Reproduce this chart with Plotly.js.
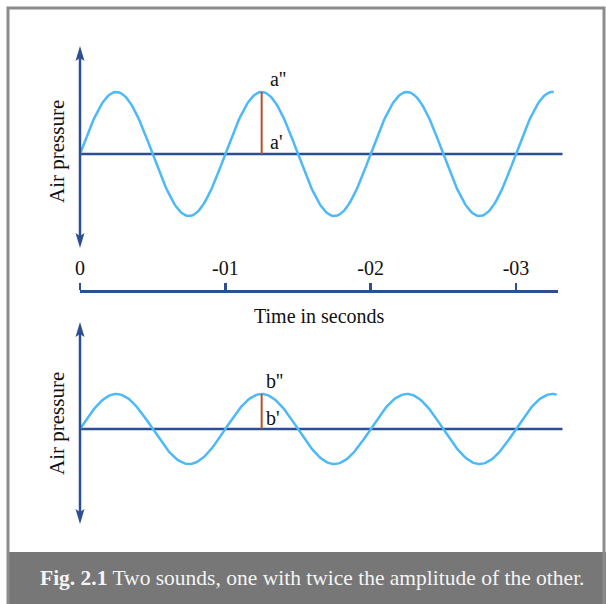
<!DOCTYPE html>
<html>
<head>
<meta charset="utf-8">
<script src="https://cdn.plot.ly/plotly-3.0.1.min.js"></script>
<style>
  body { margin: 0; background: #fff; }
  #fig { width: 606px; height: 604px; }
</style>
</head>
<body>
<div id="fig"></div>
<script>
// values
const amplitudes = [2, 1]; // top sound has twice the amplitude
const frequencyHz = 100; // one full cycle per 0.01 s tick
const waveEnds = [0.0326, 0.0328];
const zeroLineEnd = 0.0332;
const markTimes = [0.0125, 0.0125];
const markLabels = [["a''", "a'"], ["b''", "b'"]];
const tickValues = [0, 0.01, 0.02, 0.03];
const tickLabels = ["0", "-01", "-02", "-03"];

const W = 606;
const H = 604;
const X = (px) => px / W;
const Y = (py) => 1 - py / H;

const pxPerSec = 14533;
const axisBlue = "#2d4f91";
const waveBlue = "#4db9f7";
const markRed = "#b5532e";
const serif = "Liberation Serif, Times New Roman, serif";

const sineTrace = function (amp, tEnd, yaxis) {
  let xs = [];
  let ys = [];
  for (let t = 0; t <= tEnd + 1e-9; t += 0.0001) {
    xs.push(t);
    ys.push(amp * Math.sin(2 * Math.PI * frequencyHz * t));
  }
  return {
    x: xs,
    y: ys,
    yaxis: yaxis,
    mode: "lines",
    line: { color: waveBlue, width: 2.5 },
    hoverinfo: "skip",
  };
};

const zeroTrace = (yaxis) => ({
  x: [0, zeroLineEnd],
  y: [0, 0],
  yaxis: yaxis,
  mode: "lines",
  line: { color: axisBlue, width: 2.5 },
  hoverinfo: "skip",
});

const markTrace = (i, yaxis) => ({
  x: [markTimes[i], markTimes[i]],
  y: [0, amplitudes[i]],
  yaxis: yaxis,
  mode: "lines",
  line: { color: markRed, width: 2 },
  hoverinfo: "skip",
});

let data = [
  zeroTrace("y"),
  sineTrace(amplitudes[0], waveEnds[0], "y"),
  markTrace(0, "y"),
  zeroTrace("y2"),
  sineTrace(amplitudes[1], waveEnds[1], "y2"),
  markTrace(1, "y2"),
  // keeps the time axis drawn
  {
    x: [0],
    y: [0],
    xaxis: "x2",
    yaxis: "y",
    mode: "markers",
    marker: { opacity: 0 },
    hoverinfo: "skip",
  },
];

// double headed vertical axis
const arrowHead = function (tip, dir) {
  const x = 80;
  return {
    type: "path",
    xref: "paper",
    yref: "paper",
    path:
      `M ${X(x)},${Y(tip)} L ${X(x - 4.5)},${Y(tip + dir * 15)} ` +
      `L ${X(x)},${Y(tip + dir * 12)} L ${X(x + 4.5)},${Y(tip + dir * 15)} Z`,
    fillcolor: axisBlue,
    line: { width: 0 },
  };
};
const axisLine = (top, bottom) => ({
  type: "line",
  xref: "paper",
  yref: "paper",
  x0: X(80),
  x1: X(80),
  y0: Y(top + 10),
  y1: Y(bottom - 10),
  line: { color: axisBlue, width: 2.5 },
});

let shapes = [
  axisLine(46, 248),
  arrowHead(46, 1),
  arrowHead(248, -1),
  axisLine(322, 524),
  arrowHead(322, 1),
  arrowHead(524, -1),
  {
    type: "rect",
    xref: "paper",
    yref: "paper",
    x0: X(8),
    x1: X(607),
    y0: Y(605),
    y1: Y(552),
    fillcolor: "#777777",
    line: { width: 0 },
  },
  {
    type: "rect",
    xref: "paper",
    yref: "paper",
    x0: X(8),
    x1: X(604),
    y0: Y(606),
    y1: Y(8),
    fillcolor: "rgba(0,0,0,0)",
    line: { color: "#8c8c8c", width: 3 },
  },
];

const textNote = (text, x, y, extra) =>
  Object.assign(
    {
      text: text,
      xref: "paper",
      yref: "paper",
      x: X(x),
      y: Y(y),
      xanchor: "center",
      yanchor: "middle",
      showarrow: false,
      font: { family: serif, size: 20, color: "#111" },
    },
    extra || {}
  );

const markNote = (text, i, yaxis, yVal, xshift, yshift) => ({
  text: text,
  xref: "x",
  yref: yaxis,
  x: markTimes[i],
  y: yVal,
  xanchor: "left",
  yanchor: "middle",
  xshift: xshift,
  yshift: yshift,
  showarrow: false,
  font: { family: serif, size: 20, color: "#111" },
});

let annotations = [
  textNote("Air pressure", 57, 152, { textangle: -90, font: { family: serif, size: 21, color: "#111" } }),
  textNote("Air pressure", 57, 424, { textangle: -90, font: { family: serif, size: 21, color: "#111" } }),
  textNote("Time in seconds", 320, 316),
  markNote(markLabels[0][0], 0, "y", amplitudes[0], 6, 13),
  markNote(markLabels[0][1], 0, "y", 0, 6, 12),
  markNote(markLabels[1][0], 1, "y2", amplitudes[1], 2, 13),
  markNote(markLabels[1][1], 1, "y2", 0, 2, 11),
  textNote(
    "<b>Fig. 2.1</b> Two sounds, one with twice the amplitude of the other.",
    312,
    578,
    { font: { family: serif, size: 21.5, color: "#f4f4f4" } }
  ),
];

let layout = {
  width: W,
  height: H,
  margin: { l: 0, r: 0, t: 0, b: 0 },
  showlegend: false,
  paper_bgcolor: "#fff",
  plot_bgcolor: "rgba(0,0,0,0)",
  xaxis: {
    domain: [0, 1],
    range: [-80 / pxPerSec, (W - 80) / pxPerSec],
    visible: false,
    fixedrange: true,
  },
  yaxis: {
    domain: [Y(300), Y(30)],
    range: [-(300 - 154) / 31, (154 - 30) / 31],
    visible: false,
    fixedrange: true,
  },
  yaxis2: {
    domain: [Y(540), Y(310)],
    range: [-(540 - 429) / 35, (429 - 310) / 35],
    visible: false,
    fixedrange: true,
  },
  xaxis2: {
    domain: [X(80), X(558)],
    range: [0, (558 - 80) / pxPerSec],
    anchor: "free",
    position: Y(291),
    side: "top",
    showline: true,
    linecolor: axisBlue,
    linewidth: 2.5,
    ticks: "outside",
    ticklen: 7,
    tickwidth: 2.5,
    tickcolor: axisBlue,
    tickvals: tickValues,
    ticktext: tickLabels,
    tickfont: { family: serif, size: 20, color: "#111" },
    showgrid: false,
    zeroline: false,
    fixedrange: true,
  },
  shapes: shapes,
  annotations: annotations,
};

Plotly.newPlot("fig", data, layout, { staticPlot: true, displayModeBar: false });
</script>
</body>
</html>
